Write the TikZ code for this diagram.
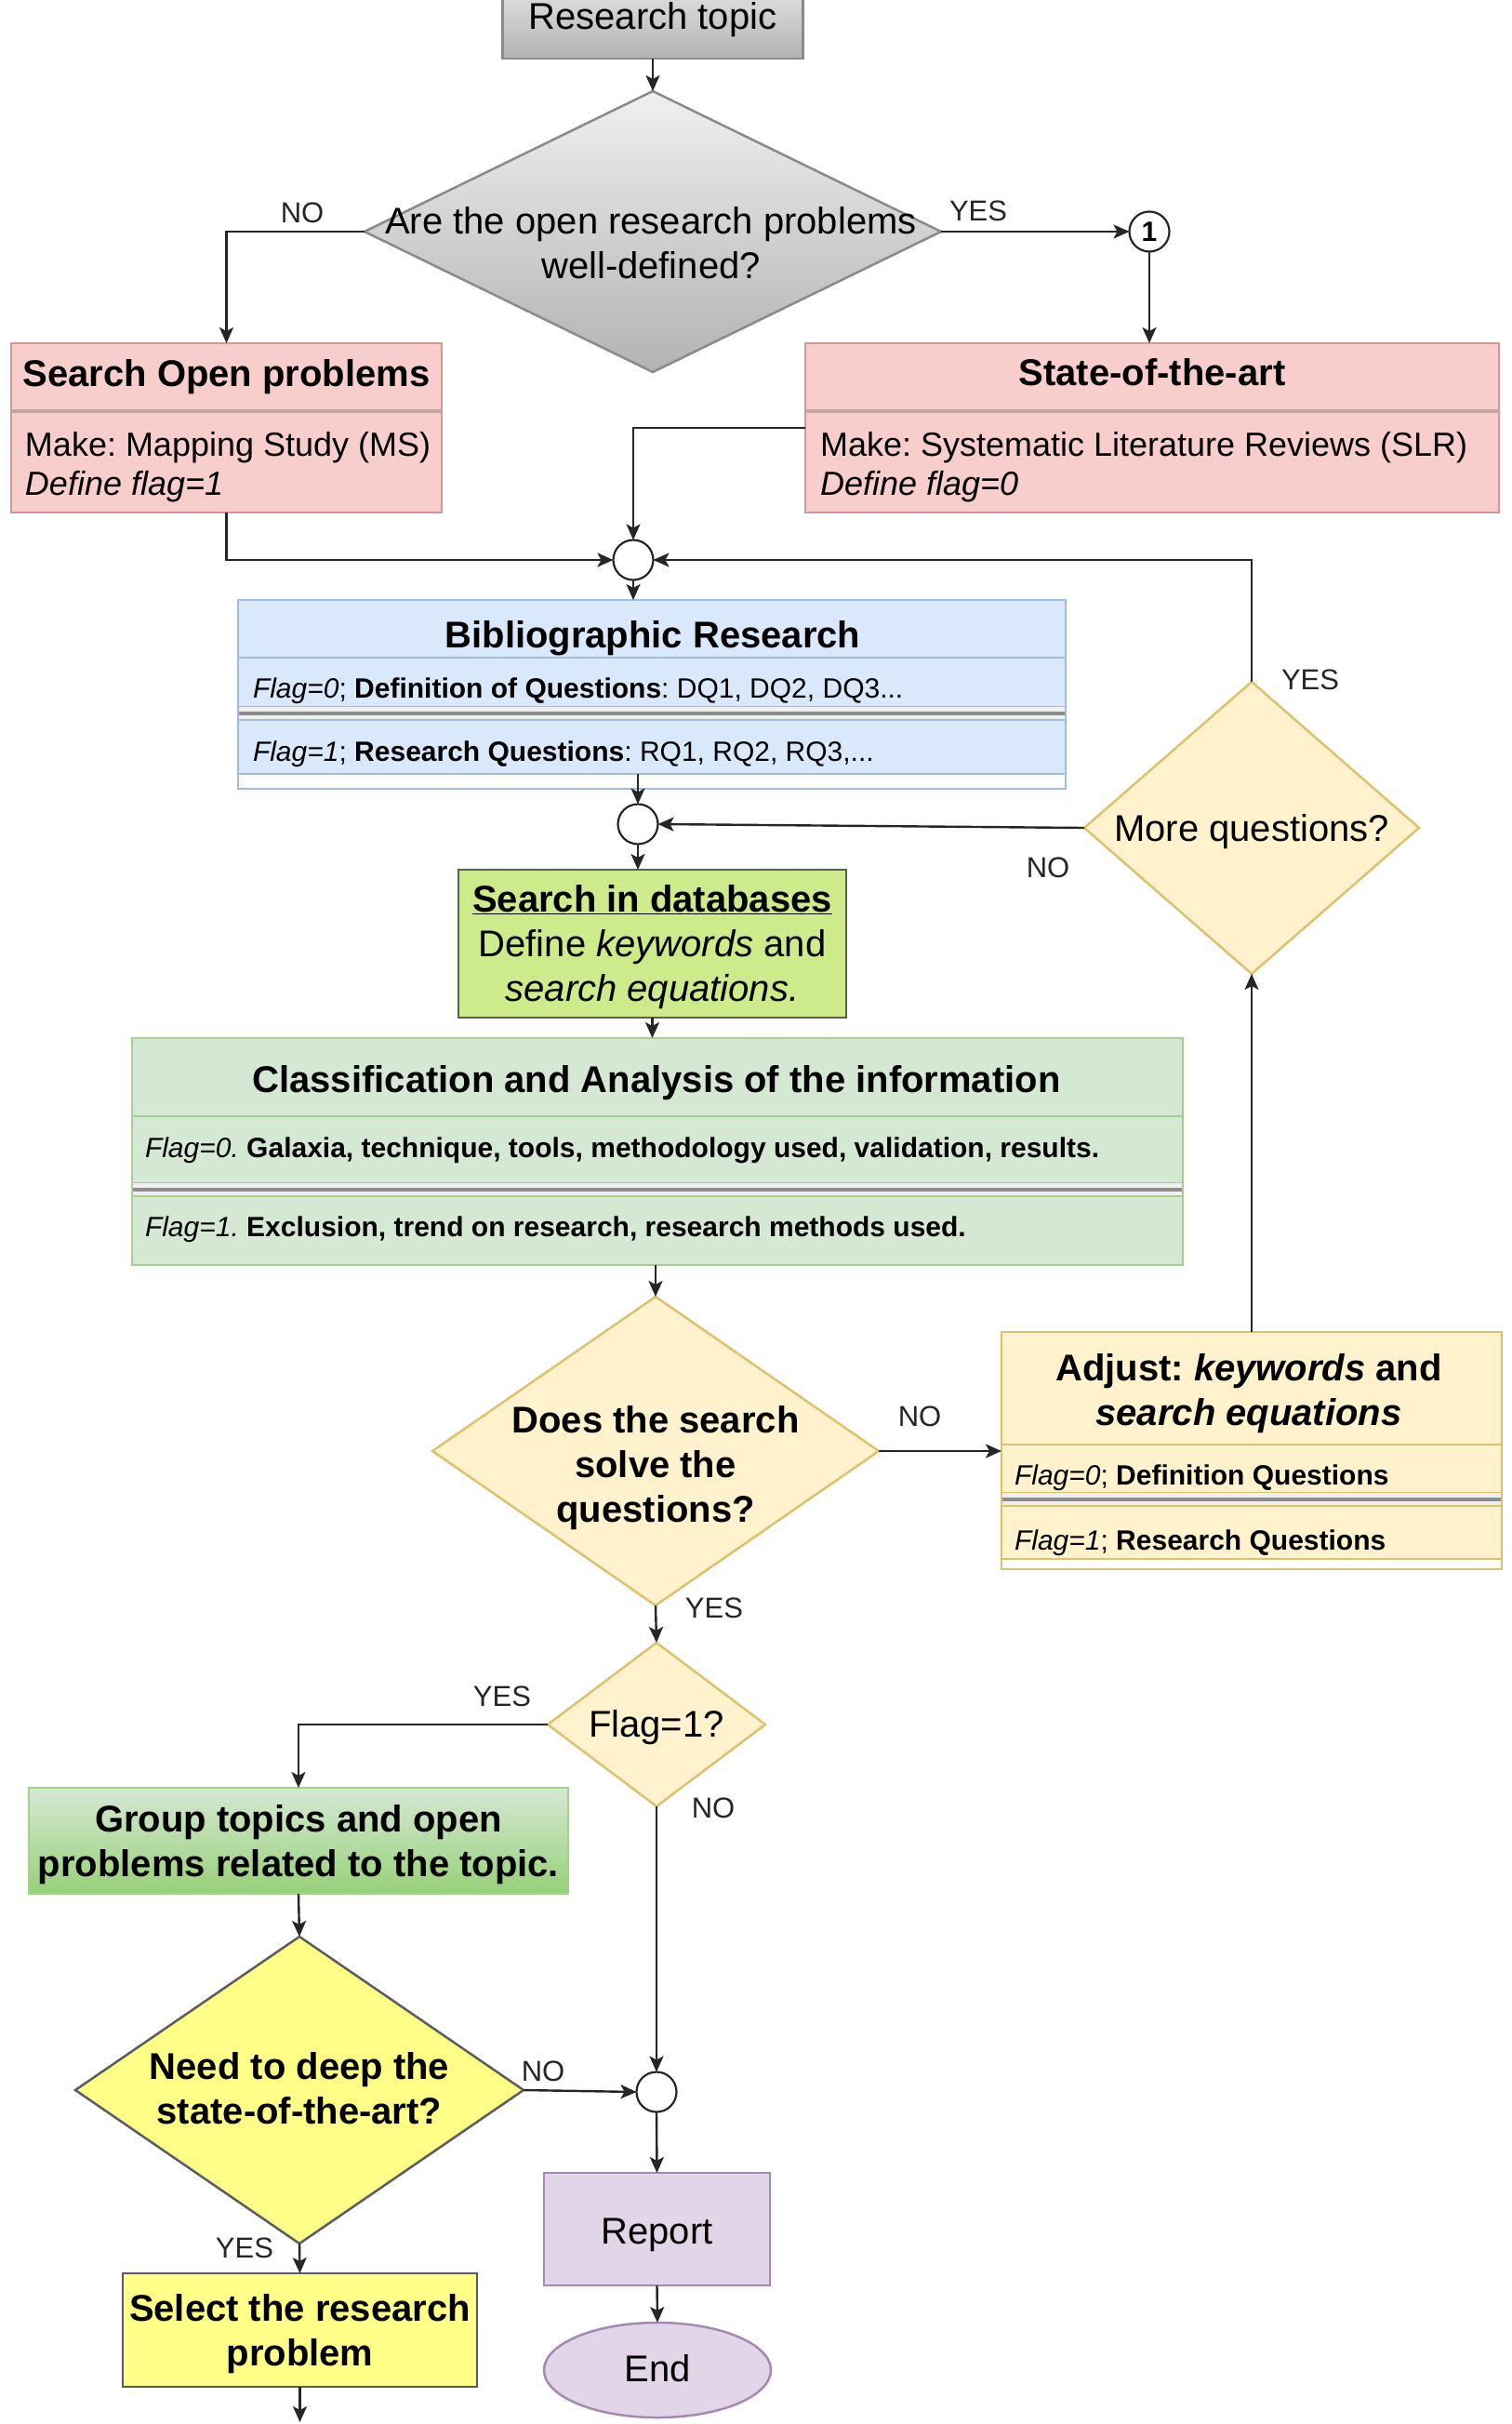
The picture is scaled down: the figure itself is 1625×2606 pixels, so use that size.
\documentclass[tikz,border=0pt]{standalone}
\usepackage{fontspec}
\setmainfont{Liberation Sans}
\usetikzlibrary{shapes.geometric,arrows.meta}
\definecolor{pinkF}{HTML}{F8CECC}
\definecolor{pinkS}{HTML}{D49896}
\definecolor{pinkD}{HTML}{C4A3A2}
\definecolor{blueF}{HTML}{DAE8FC}
\definecolor{blueS}{HTML}{A0BCE3}
\definecolor{greenF}{HTML}{D5E8D4}
\definecolor{greenS}{HTML}{A3D18E}
\definecolor{limeF}{HTML}{CDEB8B}
\definecolor{darkS}{HTML}{5A5C60}
\definecolor{yelF}{HTML}{FFF2CC}
\definecolor{yelS}{HTML}{DCC16E}
\definecolor{yelTwoF}{HTML}{FFFF88}
\definecolor{purF}{HTML}{E1D5E7}
\definecolor{purS}{HTML}{A588B3}
\definecolor{grpB}{HTML}{97D077}
\definecolor{grayS}{HTML}{8A8A8A}
\definecolor{divF}{HTML}{EFEFEF}
\definecolor{divS}{HTML}{8C8C8C}
\definecolor{lineC}{HTML}{262626}
\begin{document}
\frenchspacing
\begin{tikzpicture}[x=1pt,y=-1pt,
  every node/.style={inner sep=0pt,outer sep=0pt},
  box/.style={rectangle,line width=2.5pt},
  dia/.style={diamond,line width=2.5pt},
  junc/.style={circle,draw=lineC,line width=2.2pt,fill=white,minimum size=43pt},
  con/.style={draw=lineC,line width=2.4pt,-{Stealth[length=17pt,width=15pt,inset=4pt]}},
  lbl/.style={font=\fontsize{31}{36}\selectfont,text=black!85},
  tn/.style={font=\fontsize{40}{48}\selectfont,align=center},
  tb/.style={font=\fontsize{40}{48}\selectfont\bfseries,align=center},
  rowt/.style={anchor=west,font=\fontsize{30}{36}\selectfont},
  bodyt/.style={anchor=west,align=left,font=\fontsize{36}{42}\selectfont},
  divline/.style={draw=divS,line width=4pt},
]
\useasboundingbox (0,0) rectangle (1625,2606);
\clip (0,0) rectangle (1625,2606);

% ---------- top ----------
\node[box,draw=grayS,top color=black!6,bottom color=black!30,minimum width=323,minimum height=100] (topic) at (702,13) {};
\node[tn] (topict) at (702,21) {Research topic};

\node[dia,draw=grayS,top color=black!6,bottom color=black!30,minimum width=620,minimum height=302] (q1) at (702,249) {};
\node[tn] (q1t) at (700,261) {Are the open research problems\\well-defined?};

\node[lbl] (l1) at (325,229) {NO};
\node[lbl] (l2) at (1052,227) {YES};

\node[junc,font=\fontsize{30}{34}\selectfont\bfseries] (c1) at (1236,249) {1};

% ---------- pink boxes ----------
\node[box,fill=pinkF,draw=pinkS,minimum width=463,minimum height=182] (sop) at (243.5,460) {};
\draw[pinkD,line width=4pt] (12,442) -- (475,442);
\node[tb] (soph) at (243.5,405) {Search Open problems};
\node[bodyt] (sopb) at (27,502) {Make: Mapping Study (MS)\\\textit{Define flag=1}};

\node[box,fill=pinkF,draw=pinkS,minimum width=746,minimum height=182] (sota) at (1239,460) {};
\draw[pinkD,line width=4pt] (866,442) -- (1612,442);
\node[tb] (sotah) at (1239,400) {State-of-the-art};
\node[bodyt] (sotab) at (882,502) {Make: Systematic Literature Reviews (SLR)\\\textit{Define flag=0}};

\node[junc] (m1) at (681,602) {};

% ---------- bibliographic ----------
\node[box,fill=white,draw=blueS,minimum width=890,minimum height=203] (bib) at (701,746.5) {};
\node[box,fill=blueF,draw=blueS,minimum width=890,minimum height=62] (bibh) at (701,676) {};
\node[box,fill=blueF,draw=blueS,minimum width=890,minimum height=53] (bibra) at (701,733.5) {};
\fill[divF] (257,760) rectangle (1145,774);
\draw[divline] (257,767) -- (1145,767);
\node[box,fill=blueF,draw=blueS,minimum width=890,minimum height=58] (bibr2) at (701,803) {};
\node[tb] (bibt) at (702,686) {Bibliographic Research};
\node[rowt] (bibat) at (272,743) {\textit{Flag=0}; \textbf{Definition of Questions}: DQ1, DQ2, DQ3...};
\node[rowt] (bibbt) at (272,811) {\textit{Flag=1}; \textbf{Research Questions}: RQ1, RQ2, RQ3,...};

\node[junc] (c2) at (686,886) {};

% ---------- more questions ----------
\node[dia,fill=yelF,draw=yelS,minimum width=360,minimum height=314] (mq) at (1346,890) {};
\node[tn] (mqt) at (1346,894) {More questions?};
\node[lbl] (l3) at (1409,731) {YES};
\node[lbl] (l4) at (1127,933) {NO};

% ---------- search in databases ----------
\node[box,fill=limeF,draw=darkS,minimum width=417,minimum height=159] (sdb) at (701.5,1014.5) {};
\node[tn] (sdbt) at (701.5,1018) {\textbf{\underline{Search in databases}}\\Define \textit{keywords} and\\\textit{search equations.}};

% ---------- classification ----------
\node[box,fill=greenF,draw=greenS,minimum width=1130,minimum height=244] (cls) at (707,1238) {};
\node[box,fill=greenF,draw=greenS,minimum width=1130,minimum height=84] (clsh) at (707,1158) {};
\node[box,fill=greenF,draw=greenS,minimum width=1130,minimum height=72] (clsra) at (707,1236) {};
\fill[divF] (143,1272) rectangle (1271,1286);
\draw[divline] (143,1279) -- (1271,1279);
\node[box,fill=greenF,draw=greenS,minimum width=1130,minimum height=74] (clsrb) at (707,1323) {};
\node[tb] (clst) at (706,1164) {Classification and Analysis of the information};
\node[rowt] (clsat) at (156,1237) {\textit{Flag=0.} \textbf{Galaxia, technique, tools, methodology used, validation, results.}};
\node[rowt] (clsbt) at (156,1322) {\textit{Flag=1.} \textbf{Exclusion, trend on research, research methods used.}};

% ---------- does the search ----------
\node[dia,fill=yelF,draw=yelS,minimum width=480,minimum height=332] (q2) at (705,1560) {};
\node[tb] (q2t) at (705,1578) {Does the search\\solve the\\questions?};
\node[lbl] (l5) at (989,1523) {NO};
\node[lbl] (l6) at (768,1729) {YES};

% ---------- adjust ----------
\node[box,fill=white,draw=yelS,minimum width=538,minimum height=255] (adj) at (1346,1559.5) {};
\node[box,fill=yelF,draw=yelS,minimum width=538,minimum height=121] (adjh) at (1346,1492.5) {};
\node[box,fill=yelF,draw=yelS,minimum width=538,minimum height=52] (adjra) at (1346,1579) {};
\fill[divF] (1078,1605) rectangle (1614,1619);
\draw[divline] (1078,1612) -- (1614,1612);
\node[box,fill=yelF,draw=yelS,minimum width=538,minimum height=57] (adjrb) at (1346,1647.5) {};
\node[tb] (adjt) at (1343,1498) {Adjust: \textit{keywords} and\\\textit{search equations}};
\node[rowt] (adjat) at (1091,1589) {\textit{Flag=0}; \textbf{Definition Questions}};
\node[rowt] (adjbt) at (1091,1659) {\textit{Flag=1}; \textbf{Research Questions}};

% ---------- flag ----------
\node[dia,fill=yelF,draw=yelS,minimum width=234,minimum height=176] (fl) at (706,1854) {};
\node[tn] (flt) at (706,1857) {Flag=1?};
\node[lbl] (l7) at (540,1824) {YES};
\node[lbl] (l8) at (767,1944) {NO};

% ---------- group ----------
\node[box,top color=greenF,bottom color=grpB,draw=greenS,minimum width=580,minimum height=114] (grp) at (321,1979) {};
\node[tb] (grpt) at (321,1983) {Group topics and open\\problems related to the topic.};

% ---------- need ----------
\node[dia,fill=yelTwoF,draw=darkS,minimum width=482,minimum height=330] (need) at (322,2247) {};
\node[tb] (needt) at (322,2245) {Need to deep the\\state-of-the-art?};
\node[lbl] (l9) at (584,2227) {NO};
\node[lbl] (l10) at (263,2417) {YES};

\node[junc] (c3) at (706,2249) {};

% ---------- report / end ----------
\node[box,fill=purF,draw=purS,minimum width=243,minimum height=121] (rep) at (706.5,2396.5) {};
\node[tn] (rept) at (706.5,2403) {Report};
\node[ellipse,line width=2.5pt,fill=purF,draw=purS,minimum width=244,minimum height=102] (endn) at (707,2548) {};
\node[tn] (endt) at (707,2546) {End};

% ---------- select ----------
\node[box,fill=yelTwoF,draw=darkS,minimum width=381,minimum height=122] (sel) at (322.5,2505) {};
\node[tb] (selt) at (322.5,2509) {Select the research\\problem};
\coordinate (out) at (322.5,2604);

% ---------- connectors ----------
\draw[con] (topic.south) -- (q1.north);
\draw[con] (q1.west) -| (sop.north);
\draw[con] (q1.east) -- (c1.west);
\draw[con] (c1.south) -- (c1.south |- sota.north);
\draw[con] (sop.south) |- (m1.west);
\draw[con] (sota.west) -| (m1.north);
\draw[con] (mq.north) |- (m1.east);
\draw[con] (m1.south) -- (m1.south |- bib.north);
\draw[con] (c2.north |- bibr2.south) -- (c2.north);
\draw[con] (mq.west) -- (c2.east);
\draw[con] (c2.south) -- (c2.south |- sdb.north);
\draw[con] (sdb.south) -- (sdb.south |- cls.north);
\draw[con] (q2.north |- cls.south) -- (q2.north);
\draw[con] (q2.east) -- (q2.east -| adj.west);
\draw[con] (adj.north) -- (mq.south);
\draw[con] (q2.south) -- (fl.north);
\draw[con] (fl.west) -| (grp.north);
\draw[con] (fl.south) -- (c3.north);
\draw[con] (grp.south) -- (need.north);
\draw[con] (need.east) -- (c3.west);
\draw[con] (c3.south) -- (rep.north);
\draw[con] (rep.south) -- (endn.north);
\draw[con] (need.south) -- (sel.north);
\draw[con] (sel.south) -- (out);
\end{tikzpicture}
\end{document}
